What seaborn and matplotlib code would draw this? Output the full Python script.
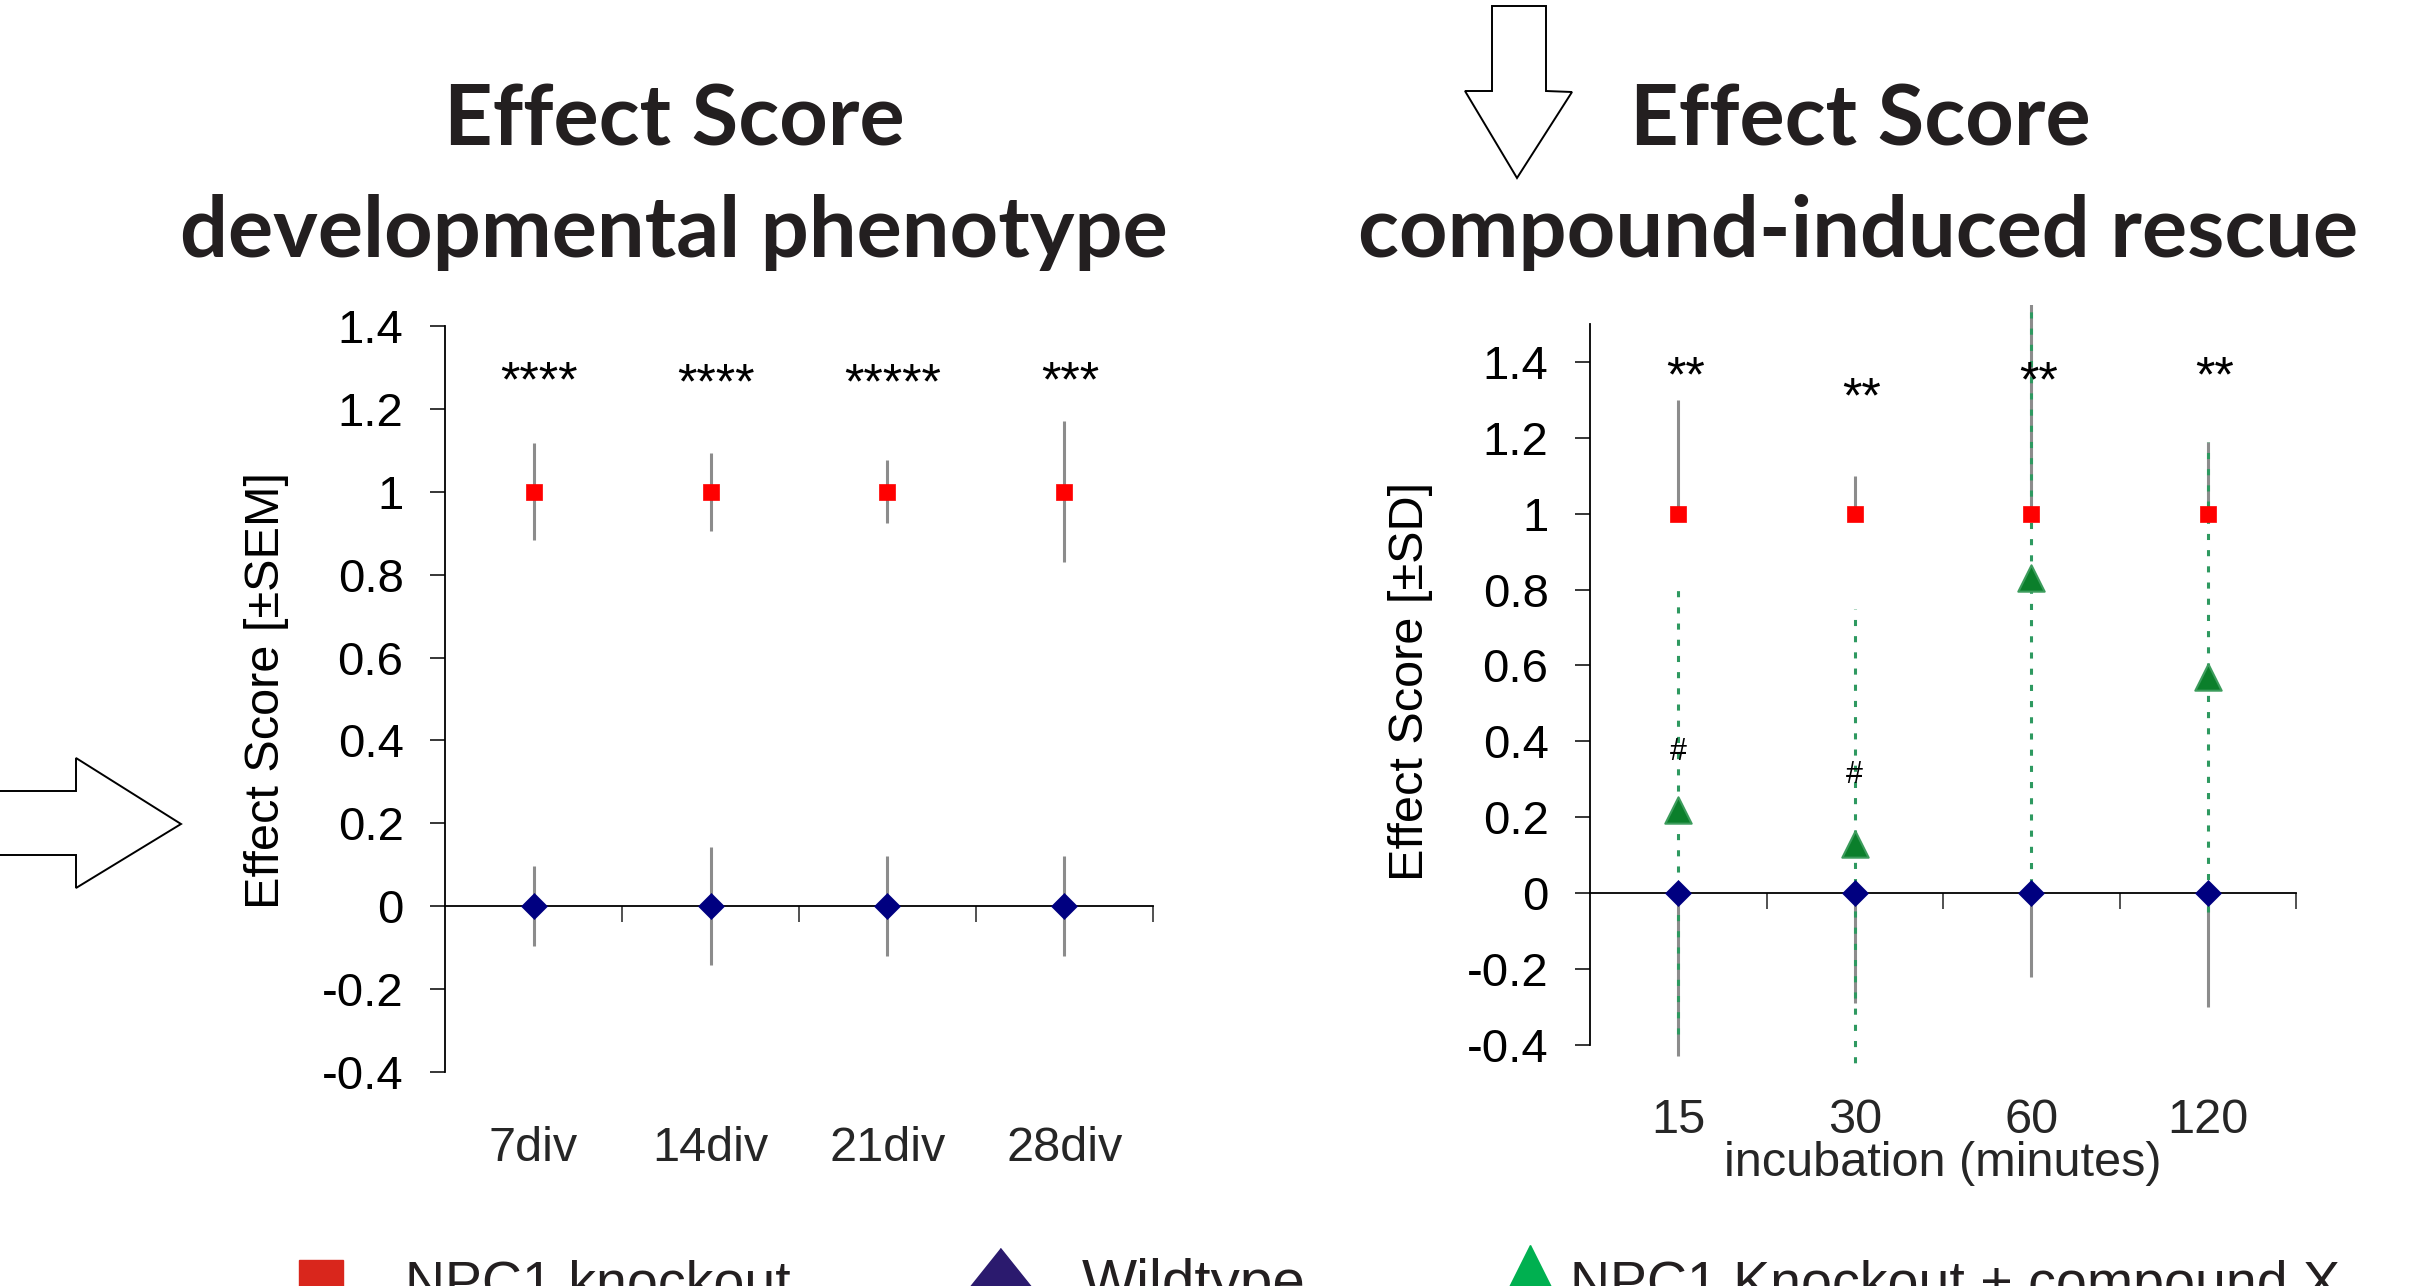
import numpy as np
import pandas as pd
import seaborn as sns
import matplotlib.pyplot as plt
import matplotlib.transforms as mtransforms
from matplotlib.patches import Polygon
from matplotlib.lines import Line2D

# left panel: developmental phenotype (mean +/- SEM)
dev_stages = ['7div', '14div', '21div', '28div']
dev_knockout = [1.0, 1.0, 1.0, 1.0]
dev_knockout_sem = [0.117, 0.094, 0.076, 0.17]
dev_wildtype = [0.0, 0.0, 0.0, 0.0]
dev_wildtype_sem = [0.097, 0.143, 0.12, 0.12]
dev_stars = ['****', '****', '*****', '***']
dev_star_y = [1.30, 1.295, 1.295, 1.30]

# right panel: compound-induced rescue (mean +/- SD)
inc_times = ['15', '30', '60', '120']
inc_knockout = [1.0, 1.0, 1.0, 1.0]
inc_knockout_sd_up = [0.30, 0.10, 0.60, 0.19]
inc_wildtype = [0.0, 0.0, 0.0, 0.0]
inc_wildtype_sd_down = [0.43, 0.29, 0.22, 0.30]
inc_rescue = [0.22, 0.13, 0.83, 0.57]
inc_rescue_sd = [0.59, 0.62, 0.85, 0.62]
inc_stars = ['**', '**', '**', '**']
inc_star_y = [1.40, 1.345, 1.385, 1.40]
inc_hash = ['#', '#', '', '']
inc_hash_y = [0.38, 0.32, 0.0, 0.0]

legend_labels = ['NPC1 knockout', 'Wildtype', 'NPC1 Knockout + compound X']

RED = '#ff0000'
NAVY = '#000080'
GREEN = '#0b7f2b'
GREY = '#8c8c8c'
DOT_GREEN = '#2e9960'
TXT = '#231f20'

W, H = 2436, 1286

sns.set_theme(style='white')
plt.rcParams['font.family'] = ['Liberation Sans', 'DejaVu Sans']

fig = plt.figure(figsize=(W / 100, H / 100), dpi=100)


def px(x, y):
    return (x / W, 1 - y / H)


def style_axes(ax, ylim, yticks, top_bound, n):
    ax.set_xlim(-0.5, n - 0.5)
    ax.set_ylim(*ylim)
    for s in ['top', 'right']:
        ax.spines[s].set_visible(False)
    ax.spines['bottom'].set_position(('data', 0))
    ax.spines['left'].set_bounds(yticks[0], top_bound)
    for s in ['left', 'bottom']:
        ax.spines[s].set_color('black')
        ax.spines[s].set_linewidth(1.3)
    ax.set_yticks(yticks)
    ax.set_yticklabels(['%g' % round(v, 1) if abs(v) > 1e-9 else '0' for v in yticks])
    ax.set_xticks(np.arange(n) + 0.5)
    ax.set_xticklabels([])
    ax.tick_params(axis='x', direction='out', length=11.5, width=1.2, color='#333333', bottom=True)
    ax.tick_params(axis='y', direction='out', length=10.8, width=1.1, pad=19,
                   labelsize=34, colors='black', left=True)
    ax.set_facecolor('white')


def star(ax, x, y, s, size, off):
    ax.annotate(s, (x, y), xytext=(0, off), textcoords='offset points',
                ha='center', va='baseline', fontsize=size, color='black')


yt = np.round(np.arange(-0.4, 1.41, 0.2), 1)

# ---------- left panel ----------
ax1 = fig.add_axes([445 / W, 1 - 1072 / H, 708 / W, 746 / H])
x1 = np.arange(len(dev_stages))
style_axes(ax1, (-0.4, 1.4), yt, 1.4, len(dev_stages))

ax1.errorbar(x1, dev_knockout, yerr=dev_knockout_sem, fmt='none', ecolor=GREY,
             elinewidth=2.2, capsize=0, zorder=2)
ax1.errorbar(x1, dev_wildtype, yerr=dev_wildtype_sem, fmt='none', ecolor=GREY,
             elinewidth=2.2, capsize=0, zorder=2)
sns.scatterplot(x=x1, y=dev_knockout, marker='s', s=125, color=RED, edgecolor=RED,
                linewidth=0.5, ax=ax1, zorder=5, legend=False)
sns.scatterplot(x=x1, y=dev_wildtype, marker='D', s=175, color=NAVY, edgecolor=NAVY,
                linewidth=0.5, ax=ax1, zorder=5, legend=False)

for i, s in enumerate(dev_stars):
    star(ax1, x1[i] + 0.03, dev_star_y[i], s, 36, -21)

trans1 = mtransforms.blended_transform_factory(ax1.transData, ax1.transAxes)
for i, lab in enumerate(dev_stages):
    ax1.text(x1[i], -0.119, lab, transform=trans1, ha='center', va='baseline', fontsize=35)
ax1.set_xlabel('')
ax1.set_ylabel('Effect Score [±SEM]', fontsize=35, color='black')
ax1.yaxis.set_label_coords(-0.22, 0.511)

# ---------- right panel ----------
ax2 = fig.add_axes([1590 / W, 1 - 1067.7 / H, 706 / W, 762.7 / H])
x2 = np.arange(len(inc_times))
style_axes(ax2, (-0.46, 1.55), yt, 1.5, len(inc_times))

ax2.errorbar(x2, inc_knockout, yerr=[np.zeros(4), inc_knockout_sd_up], fmt='none',
             ecolor=GREY, elinewidth=2.2, capsize=0, zorder=2)
ax2.errorbar(x2, inc_wildtype, yerr=[inc_wildtype_sd_down, np.zeros(4)], fmt='none',
             ecolor=GREY, elinewidth=2.2, capsize=0, zorder=2)
eb = ax2.errorbar(x2, inc_rescue, yerr=inc_rescue_sd, fmt='none', ecolor=DOT_GREEN,
                  elinewidth=2.2, capsize=0, zorder=3)
eb[2][0].set_linestyle((0, (2, 3.3)))

sns.scatterplot(x=x2, y=inc_knockout, marker='s', s=125, color=RED, edgecolor=RED,
                linewidth=0.5, ax=ax2, zorder=5, legend=False)
sns.scatterplot(x=x2, y=inc_wildtype, marker='D', s=175, color=NAVY, edgecolor=NAVY,
                linewidth=0.5, ax=ax2, zorder=5, legend=False)
sns.scatterplot(x=x2, y=inc_rescue, marker='^', s=360, color=GREEN, edgecolor='#3c9c5c',
                linewidth=1.5, ax=ax2, zorder=5, legend=False)

for i, s in enumerate(inc_stars):
    star(ax2, x2[i] + 0.04, inc_star_y[i], s, 36, -21)
for i, s in enumerate(inc_hash):
    if s:
        star(ax2, x2[i], inc_hash_y[i], s, 22, -8)

trans2 = mtransforms.blended_transform_factory(ax2.transData, ax2.transAxes)
for i, lab in enumerate(inc_times):
    ax2.text(x2[i], -0.0856, lab, transform=trans2, ha='center', va='baseline', fontsize=35)
ax2.text(0.5, -0.142, 'incubation (minutes)', transform=ax2.transAxes, ha='center',
         va='baseline', fontsize=35)
ax2.set_xlabel('')
ax2.set_ylabel('Effect Score [±SD]', fontsize=35, color='black')
ax2.yaxis.set_label_coords(-0.222, 0.506)

# ---------- titles ----------
title_kw = dict(ha='center', va='baseline', fontweight='bold', color=TXT,
                family=['Lato', 'DejaVu Sans'])
t_long = fig.text(*px(674, 257), 'developmental phenotype', fontsize=60, **title_kw)
fig.canvas.draw()
r = fig.canvas.get_renderer()
tsize = 60 * 989 / t_long.get_window_extent(r).width
t_long.set_fontsize(tsize)
fig.text(*px(674, 146), 'Effect Score', fontsize=tsize, **title_kw)
fig.text(*px(1860, 146), 'Effect Score', fontsize=tsize, **title_kw)
fig.text(*px(1858, 257), 'compound-induced rescue', fontsize=tsize, **title_kw)

# ---------- hollow arrows ----------
down_arrow = [(1492, 6), (1546, 6), (1546, 91), (1572, 92), (1517, 178), (1465, 91), (1492, 91)]
right_arrow = [(-10, 791), (76, 791), (76, 758), (181, 824), (76, 888), (76, 855), (-10, 855)]
for pts in [down_arrow, right_arrow]:
    fig.add_artist(Polygon([px(*p) for p in pts], closed=True, facecolor='white',
                           edgecolor='black', linewidth=1.4, transform=fig.transFigure))

# ---------- legend (cut at bottom edge, as in the source figure) ----------
fig.add_artist(Line2D([px(321, 0)[0]], [px(0, 1282)[1]], transform=fig.transFigure,
                      marker='s', ms=32, color='#d9261c', linestyle='none', clip_on=False))
fig.add_artist(Line2D([px(1000, 0)[0]], [px(0, 1300)[1]], transform=fig.transFigure,
                      marker=[(0, 1), (0.8, 0), (0, -1), (-0.8, 0)], ms=75, color='#2b1a6e',
                      linestyle='none', clip_on=False))
fig.add_artist(Line2D([px(1530, 0)[0]], [px(0, 1285)[1]], transform=fig.transFigure,
                      marker='^', ms=58, color='#00b050', linestyle='none', clip_on=False))
for xp, lab, fs in zip([405, 1082, 1570], legend_labels, [40, 42, 40]):
    fig.text(*px(xp, 1300), lab, ha='left', va='baseline', fontsize=fs, color=TXT)

fig.savefig('out.png', dpi=100, facecolor='white')
